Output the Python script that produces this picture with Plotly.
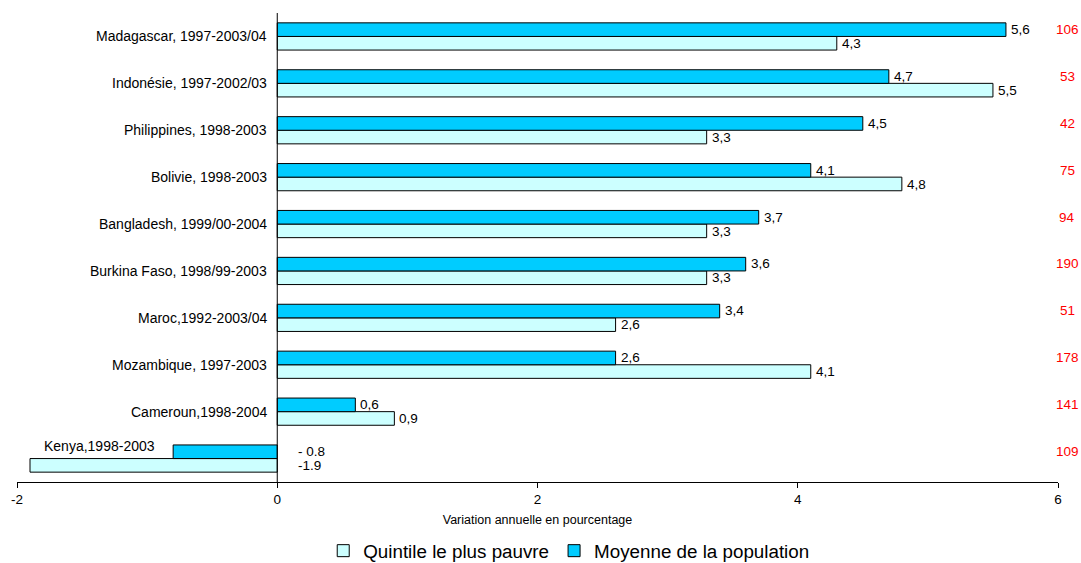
import plotly.graph_objects as go

categories = ["Madagascar, 1997-2003/04", "Indonésie, 1997-2002/03", "Philippines, 1998-2003",
              "Bolivie, 1998-2003", "Bangladesh, 1999/00-2004", "Burkina Faso, 1998/99-2003",
              "Maroc,1992-2003/04", "Mozambique, 1997-2003", "Cameroun,1998-2004", "Kenya,1998-2003"]
moyenne = [5.6, 4.7, 4.5, 4.1, 3.7, 3.6, 3.4, 2.6, 0.6, -0.8]
quintile = [4.3, 5.5, 3.3, 4.8, 3.3, 3.3, 2.6, 4.1, 0.9, -1.9]
moyenne_labels = ["5,6", "4,7", "4,5", "4,1", "3,7", "3,6", "3,4", "2,6", "0,6", "- 0.8"]
quintile_labels = ["4,3", "5,5", "3,3", "4,8", "3,3", "3,3", "2,6", "4,1", "0,9", "-1.9"]
red_values = ["106", "53", "42", "75", "94", "190", "51", "178", "141", "109"]
x_ticks = [-2, 0, 2, 4, 6]

DARK = "#00CCFF"
LIGHT = "#CCFFFF"
FONT = "Liberation Sans, Arial, sans-serif"

cats_r = categories[::-1]
fig = go.Figure()
fig.add_trace(go.Bar(y=cats_r, x=quintile[::-1], orientation="h", name="Quintile le plus pauvre",
                     marker=dict(color=LIGHT, line=dict(color="black", width=1))))
fig.add_trace(go.Bar(y=cats_r, x=moyenne[::-1], orientation="h", name="Moyenne de la population",
                     marker=dict(color=DARK, line=dict(color="black", width=1))))

ann = []
n = len(categories)
for i, c in enumerate(categories):
    kenya = c.startswith("Kenya")
    # value labels
    for val, lab, ys in ((moyenne[i], moyenne_labels[i], 7), (quintile[i], quintile_labels[i], -7)):
        ann.append(dict(x=max(val, 0), y=c, xref="x", yref="y", text=lab, showarrow=False,
                        xanchor="left", xshift=19 if val < 0 else 3, yshift=ys,
                        font=dict(family=FONT, size=13.5, color="black")))
    # category label
    if kenya:
        ann.append(dict(x=moyenne[i], y=c, xref="x", yref="y", text=c, showarrow=False,
                        xanchor="right", xshift=-16, yshift=13,
                        font=dict(family=FONT, size=14, color="black")))
    else:
        ann.append(dict(x=0, y=c, xref="x", yref="y", text=c, showarrow=False,
                        xanchor="right", xshift=-8, yshift=0,
                        font=dict(family=FONT, size=14, color="black")))
    # red number
    ann.append(dict(x=1, y=c, xref="paper", yref="y", text=red_values[i], showarrow=False,
                    xanchor="center", xshift=9, yshift=7,
                    font=dict(family=FONT, size=13.5, color="#FF0000")))

fig.update_layout(
    width=1081, height=563,
    margin=dict(l=17, r=23, t=13, b=81, autoexpand=False),
    plot_bgcolor="white", paper_bgcolor="white",
    barmode="group", bargap=0.42, bargroupgap=0,
    font=dict(family=FONT, size=12, color="black"),
    annotations=ann,
    showlegend=True,
    legend=dict(orientation="h", x=0.53, xanchor="center", y=-0.147, yanchor="middle",
                font=dict(family=FONT, size=18.8), itemwidth=30, traceorder="normal"),
    shapes=[dict(type="line", xref="x", yref="paper", x0=0, x1=0, y0=0, y1=1,
                 line=dict(color="black", width=1))],
)
fig.update_xaxes(range=[-2, 6], tickvals=x_ticks, ticktext=[str(t) for t in x_ticks],
                 showgrid=False, zeroline=False, showline=True, linecolor="black", linewidth=1,
                 ticks="outside", ticklen=5, tickcolor="black",
                 tickfont=dict(family=FONT, size=13.5),
                 title=dict(text="Variation annuelle en pourcentage", font=dict(family=FONT, size=12.5), standoff=9))
fig.update_yaxes(showticklabels=False, showgrid=False, zeroline=False, showline=False,
                 range=[-0.5, n - 0.5])

fig.write_html("out.html", post_script="document.body.style.margin='0';",
               config={"displayModeBar": False})
